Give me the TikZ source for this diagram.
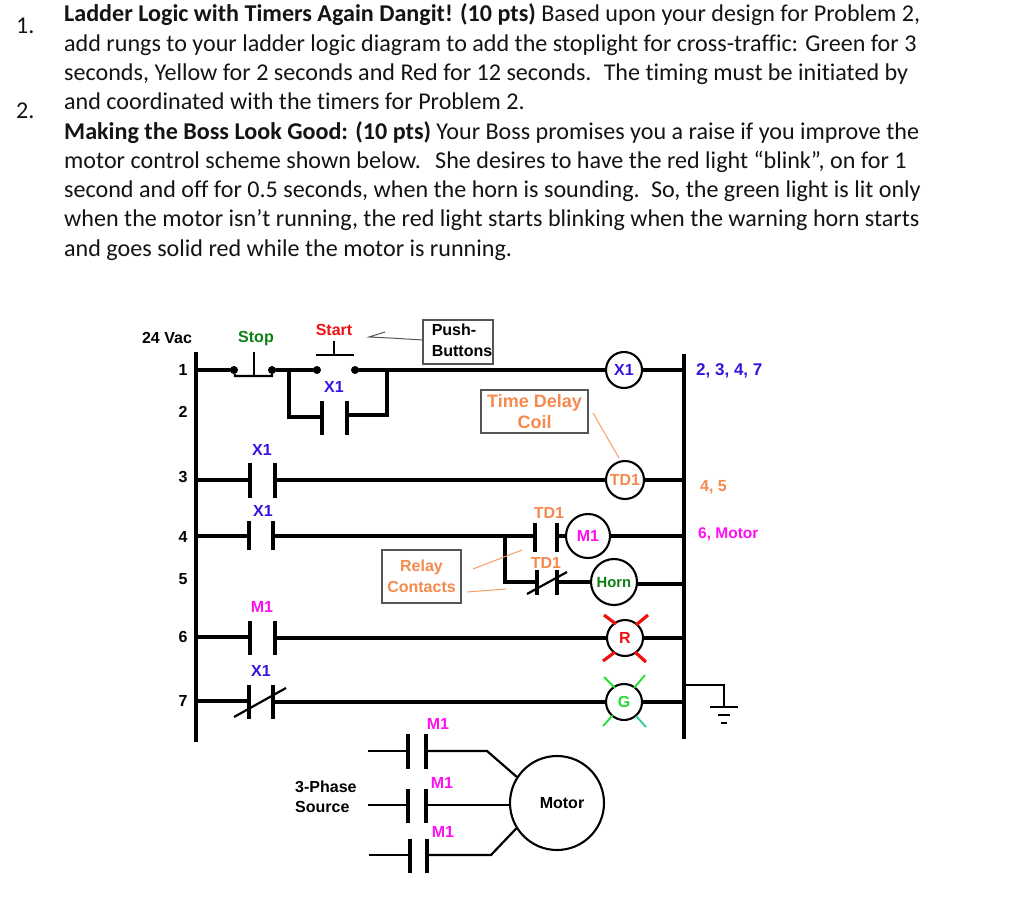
\documentclass[tikz,border=0pt]{standalone}
\usepackage{fontspec}
\setmainfont[Ligatures=NoCommon]{Carlito}
\newfontfamily\lab{Liberation Sans}
\definecolor{cblue}{HTML}{3A12E0}
\definecolor{cmag}{HTML}{FF10F0}
\definecolor{corg}{HTML}{F58A4E}
\definecolor{cgrn}{HTML}{0E7F12}
\definecolor{cred}{HTML}{EE1111}
\definecolor{clgr}{HTML}{22DD33}
\definecolor{cteal}{HTML}{22CFA0}
\definecolor{cgry}{HTML}{555555}
\tikzset{
 para/.style={anchor=base west,inner sep=0pt,font=\fontsize{24.1}{28}\selectfont,text=black!92},
 lbl/.style={inner sep=0pt,align=center,font=\lab\bfseries\fontsize{16}{20.5}\selectfont},
 wire/.style={line width=3.3pt,line cap=round},
 thinw/.style={line width=2.2pt},
 thinb/.style={line width=2.2pt},
 plate/.style={line width=3.3pt},
 coil/.style={circle,draw=black,line width=2.1pt,fill=white,inner sep=0pt},
 rail/.style={line width=3.6pt},
 call/.style={draw=cgry,line width=1.1pt,inner sep=0pt,align=center,font=\lab\bfseries\fontsize{16}{20.5}\selectfont},
 dotn/.style={circle,fill=black,inner sep=0pt,minimum size=8pt},
 lead/.style={corg!85!white,line width=1pt},
 ray/.style={line width=3.2pt,cred},
 rayg/.style={line width=1.8pt,clgr}
}
% contact: name, x-left, x-right, y of wire, y-top, y-bottom
\newcommand{\contactpair}[6]{%
 \coordinate (#1-a) at (#2,#4);\coordinate (#1-b) at (#3,#4);
 \draw[plate] (#2,#5)--(#2,#6);\draw[plate] (#3,#5)--(#3,#6);}
\begin{document}
\begin{tikzpicture}[x=1pt,y=-1pt]
\useasboundingbox (0,0) rectangle (1019,910);
\fill[white] (0,0) rectangle (1019,910);
% text
\node[para] (n1) at (16,33) {1.};
\node[para] (n2) at (16,118) {2.};
\node[para] (t1) at (64,21) {\textbf{Ladder Logic with Timers Again Dangit! (10 pts)} Based upon your design for Problem 2,};
\node[para] (t2) at (64,51) {add rungs to your ladder logic diagram to add the stoplight for cross-traffic: Green for 3};
\node[para] (t3) at (64,80) {seconds, Yellow for 2 seconds and Red for 12 seconds.\hspace{5pt} The timing must be initiated by};
\node[para] (t4) at (64,109) {and coordinated with the timers for Problem 2.};
\node[para] (t5) at (64,139) {\textbf{Making the Boss Look Good: (10 pts)} Your Boss promises you a raise if you improve the};
\node[para] (t6) at (64,168) {motor control scheme shown below.\hspace{7pt} She desires to have the red light “blink”, on for 1};
\node[para] (t7) at (64,197) {second and off for 0.5 seconds, when the horn is sounding.\hspace{4pt} So, the green light is lit only};
\node[para] (t8) at (64,226) {when the motor isn’t running, the red light starts blinking when the warning horn starts};
\node[para] (t9) at (64,256) {and goes solid red while the motor is running.};
% rails
\coordinate (Ltop) at (196,352);\coordinate (Lbot) at (196,742);
\coordinate (Rtop) at (684,354);\coordinate (Rbot) at (684,739);
\draw[rail] (Ltop)--(Lbot);
\draw[rail] (Rtop)--(Rbot);
\foreach \n/\y in {1/370,3/480,4/536,6/637,7/701}{\coordinate (L\n) at (196,\y);}
\foreach \n/\y in {1/370,3/480,4/536,5/584,6/638,7/702}{\coordinate (R\n) at (684,\y);}
% coils
\node[coil,minimum size=36pt] (cX) at (624,370) {};
\node[coil,minimum size=38pt] (cTD) at (625,480) {};
\node[coil,minimum size=44pt] (cM) at (588,536) {};
\node[coil,minimum size=46pt] (cH) at (614,582) {};
\node[coil,minimum size=36pt] (cR) at (625,638) {};
\node[coil,minimum size=36pt] (cG) at (624,702) {};
% rung 1
\node[dotn] (s1) at (234,370) {};\node[dotn] (s2) at (272,370) {};
\node[dotn] (st1) at (317,370) {};\node[dotn] (st2) at (355,370) {};
\draw[wire] (L1)--(s1);\draw[wire] (s2)--(st1);\draw[wire] (st2)--(cX.west);\draw[wire] (cX.east)--(R1);
\coordinate (sbar1) at (235,376);\coordinate (sbar2) at (272,376);\coordinate (stem1) at (254,352);\coordinate (stem2) at (254,376);
\draw[thinb] (s1)--(sbar1)--(sbar2)--(s2);\draw[thinb] (stem1)--(stem2);
\coordinate (tbar1) at (316,355);\coordinate (tbar2) at (354,355);\coordinate (tstem1) at (334,341);\coordinate (tstem2) at (334,355);
\draw[thinb] (tbar1)--(tbar2);\draw[thinb] (tstem1)--(tstem2);
% seal-in
\contactpair{c2}{322}{347}{417}{401}{435}
\coordinate (bl) at (289,370);\coordinate (bl2) at (289,417);\coordinate (br) at (387,370);\coordinate (br2) at (387,415);\coordinate (c2r) at (347,415);
\draw[wire] (bl)--(bl2)--(c2-a);\draw[wire] (c2r)--(br2)--(br);
% rung 3
\contactpair{c3}{250}{275}{480}{463}{498}
\draw[wire] (L3)--(c3-a);\draw[wire] (c3-b)--(cTD.west);\draw[wire] (cTD.east)--(R3);
% rung 4
\contactpair{c4}{249}{273}{536}{521}{550}
\contactpair{c4t}{535}{557}{536}{523}{552}
\draw[wire] (L4)--(c4-a);\draw[wire] (c4-b)--(c4t-a);\draw[wire] (c4t-b)--(cM.west);\draw[wire] (cM.east)--(R4);
% rung 5 branch
\coordinate (b5a) at (505,536);\coordinate (b5b) at (505,582);
\contactpair{c5}{537}{557}{582}{570}{595}
\draw[wire] (b5a)--(b5b)--(c5-a);\draw[wire] (c5-b)--(cH.west);
\coordinate (h5) at (cH.east |- R5);\draw[wire] (h5)--(R5);
\coordinate (sl5a) at (527,594);\coordinate (sl5b) at (567,572);\draw[thinb] (sl5a)--(sl5b);
% rung 6
\contactpair{c6}{250}{275}{637}{621}{655}
\draw[wire] (L6)--(c6-a);\coordinate (c6c) at (275,638);\draw[wire] (c6c)--(cR.west);\draw[wire] (cR.east)--(R6);
% rung 7
\contactpair{c7}{249}{273}{701}{685}{719}
\draw[wire] (L7)--(c7-a);\coordinate (c7c) at (273,702);\draw[wire] (c7c)--(cG.west);\draw[wire] (cG.east)--(R7);
\coordinate (sl7a) at (234,717);\coordinate (sl7b) at (286,688);\draw[thinb] (sl7a)--(sl7b);
% rays
\coordinate (r1a) at (604,615);\coordinate (r1b) at (616,624);\draw[ray] (r1a)--(r1b);
\coordinate (r2a) at (648,615);\coordinate (r2b) at (636,625);\draw[ray] (r2a)--(r2b);
\coordinate (r3a) at (603,661);\coordinate (r3b) at (615,652);\draw[ray] (r3a)--(r3b);
\coordinate (r4a) at (646,662);\coordinate (r4b) at (635,652);\draw[ray] (r4a)--(r4b);
\coordinate (g1a) at (604,677);\coordinate (g1b) at (615,688);\draw[rayg] (g1a)--(g1b);
\coordinate (g2a) at (645,675);\coordinate (g2b) at (634,688);\draw[rayg] (g2a)--(g2b);
\coordinate (g3a) at (603,726);\coordinate (g3b) at (613,715);\draw[rayg] (g3a)--(g3b);
\coordinate (g4a) at (646,727);\coordinate (g4b) at (636,716);\draw[rayg,cteal] (g4a)--(g4b);
% ground
\coordinate (gr0) at (684,685);\coordinate (gr1) at (724,685);\coordinate (gr2) at (724,707);
\draw[thinw] (gr0)--(gr1)--(gr2);
\coordinate (gb1) at (710,707);\coordinate (gb2) at (738,707);\draw[thinw] (gb1)--(gb2);
\coordinate (gb3) at (718,715);\coordinate (gb4) at (730,715);\draw[thinw] (gb3)--(gb4);
\coordinate (gb5) at (721,723);\coordinate (gb6) at (727,723);\draw[thinw] (gb5)--(gb6);
% motor
\node[coil,minimum size=94pt] (mot) at (557,803) {};
\node[lbl] (motl) at (562,803) {Motor};
\contactpair{m1}{408}{426}{751}{734}{769}
\contactpair{m2}{408}{426}{805}{789}{823}
\contactpair{m3}{410}{427}{855}{839}{873}
\coordinate (m1l) at (368,751);\coordinate (m2l) at (368,805);\coordinate (m3l) at (369,855);
\coordinate (m1k) at (487,751);\coordinate (m3k) at (491,855);
\draw[thinw] (m1l)--(m1-a);\draw[thinw] (m2l)--(m2-a);\draw[thinw] (m3l)--(m3-a);
\draw[thinw] (m1-b)--(m1k)--(mot.147);
\draw[thinw] (m2-b)--(mot.west |- m2-b);
\draw[thinw] (m3-b)--(m3k)--(mot.212);
% labels
\node[lbl] (l24) at (167,338) {24 Vac};
\node[lbl,text=cgrn] (lstop) at (256,339) {Stop};
\node[lbl,text=cred] (lstart) at (334,330) {Start};
\foreach \n/\y in {1/370,2/412,3/477,4/537,5/579,6/637,7/701}{\node[lbl] (num\n) at (183,\y) {\n};}
\node[lbl,text=cblue] (x1a) at (334,387) {X1};
\node[lbl,text=cblue] (x1b) at (262,450) {X1};
\node[lbl,text=cblue] (x1c) at (263,511) {X1};
\node[lbl,text=cmag] (m1c) at (262,607) {M1};
\node[lbl,text=cblue] (x1d) at (261,671) {X1};
\node[lbl,text=corg] (td1a) at (549,513) {TD1};
\node[lbl,text=corg] (td1b) at (546,563) {TD1};
\node[lbl,text=cblue] at (cX) {X1};
\node[lbl,text=corg] at (cTD) {TD1};
\node[lbl,text=cmag] at (cM) {M1};
\node[lbl,text=cgrn,font=\lab\bfseries\fontsize{14.8}{15}\selectfont] at (cH) {Horn};
\node[lbl,text=cred] at (cR) {R};
\node[lbl,text=clgr] at (cG) {G};
\node[lbl,text=cblue,anchor=west,font=\lab\bfseries\fontsize{17}{20}\selectfont] (r1) at (696,371) {2, 3, 4, 7};
\node[lbl,text=corg,anchor=west] (r2) at (700,487) {4, 5};
\node[lbl,text=cmag,anchor=west,font=\lab\bfseries\fontsize{15.5}{20}\selectfont] (r3) at (698,534) {6, Motor};
\node[lbl,text=cmag] (m1d) at (438,724) {M1};
\node[lbl,text=cmag] (m1e) at (442,783) {M1};
\node[lbl,text=cmag] (m1f) at (443,832) {M1};
\node[lbl,align=left,anchor=west] (src) at (295,797) {3-Phase\\Source};
% callouts
\node[call,minimum width=70pt,minimum height=44pt] (pb) at (458,342) {\hspace*{8pt}\begin{tabular}{@{}l@{}}Push-\\Buttons\end{tabular}};
\coordinate (pa) at (369,337);\coordinate (pb2) at (385,332);\coordinate (pc) at (423,340);\coordinate (pd) at (390,338);
\draw[cgry,line width=1pt] (pb2)--(pa)--(pd)--(pc);
\node[call,text=corg,minimum width=107pt,minimum height=43pt,font=\lab\bfseries\fontsize{18}{21}\selectfont] (td) at (534.5,411.5) {Time Delay\\Coil};
\coordinate (tda) at (593,413);\coordinate (tdb) at (619,458);\draw[lead] (tda)--(tdb);
\node[call,text=corg,minimum width=79pt,minimum height=53pt] (rc) at (421.5,576.5) {Relay\\Contacts};
\coordinate (rca) at (473,569);\coordinate (rcb) at (522,550);\draw[lead] (rca)--(rcb);
\coordinate (rcc) at (467,592);\coordinate (rcd) at (506,589);\draw[lead] (rcc)--(rcd);
\end{tikzpicture}
\end{document}
